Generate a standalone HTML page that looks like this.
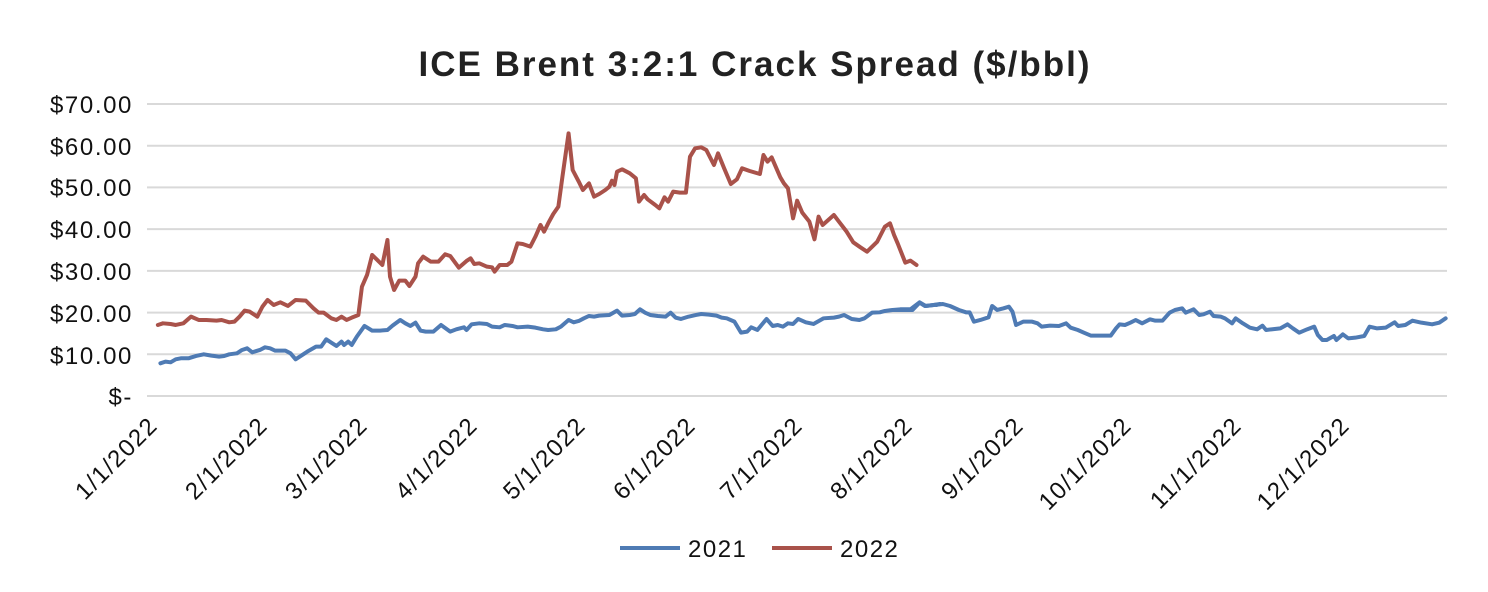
<!DOCTYPE html>
<html><head><style>body{margin:0;background:#fff}svg{display:block}text{font-family:"Liberation Sans",Arial,sans-serif}</style></head>
<body>
<svg width="1488" height="592" viewBox="0 0 1488 592">
<text x="755" y="76" font-size="35" font-weight="bold" letter-spacing="2" text-anchor="middle" fill="#222">ICE Brent 3:2:1 Crack Spread ($/bbl)</text>
<g stroke="#d9d9d9" stroke-width="2">
<line x1="147" x2="1447" y1="104" y2="104"/><line x1="147" x2="1447" y1="145.7" y2="145.7"/><line x1="147" x2="1447" y1="187.4" y2="187.4"/><line x1="147" x2="1447" y1="229.1" y2="229.1"/><line x1="147" x2="1447" y1="270.9" y2="270.9"/><line x1="147" x2="1447" y1="312.6" y2="312.6"/><line x1="147" x2="1447" y1="354.3" y2="354.3"/><line x1="147" x2="1447" y1="396" y2="396"/>
</g>
<g font-size="24" letter-spacing="1.6" text-anchor="end" fill="#111">
<text x="133" y="113">$70.00</text><text x="133" y="155">$60.00</text><text x="133" y="196">$50.00</text><text x="133" y="238">$40.00</text><text x="133" y="280">$30.00</text><text x="133" y="322">$20.00</text><text x="133" y="364">$10.00</text><text x="133" y="405">$-</text>
</g>
<g font-size="24" letter-spacing="1.4" text-anchor="end" fill="#111">
<text transform="translate(159,427) rotate(-45)">1/1/2022</text>
<text transform="translate(269,427) rotate(-45)">2/1/2022</text>
<text transform="translate(369,427) rotate(-45)">3/1/2022</text>
<text transform="translate(479,427) rotate(-45)">4/1/2022</text>
<text transform="translate(587,427) rotate(-45)">5/1/2022</text>
<text transform="translate(697,427) rotate(-45)">6/1/2022</text>
<text transform="translate(804,427) rotate(-45)">7/1/2022</text>
<text transform="translate(914,427) rotate(-45)">8/1/2022</text>
<text transform="translate(1025,427) rotate(-45)">9/1/2022</text>
<text transform="translate(1133,427) rotate(-45)">10/1/2022</text>
<text transform="translate(1243,427) rotate(-45)">11/1/2022</text>
<text transform="translate(1351,427) rotate(-45)">12/1/2022</text>
</g>
<g fill="none" stroke-width="4" stroke-linejoin="round" stroke-linecap="round">
<g transform="translate(140,90) scale(0.5102,0.3333)">
<polyline vector-effect="non-scaling-stroke" stroke="#4f7bb4" points="40,820 50,815 60,817 70,808 80,805 95,805 110,798 125,793 140,797 155,800 165,798 175,793 190,790 200,780 210,775 220,787 235,780 245,772 255,775 265,782 285,782 295,790 305,808 320,793 330,783 345,770 355,770 365,748 375,758 385,768 395,755 400,765 408,755 415,765 425,740 440,708 455,722 470,722 485,720 495,707 510,690 520,700 530,708 540,698 550,722 560,725 575,725 590,705 608,725 620,718 635,712 640,720 650,703 665,700 680,702 690,710 705,712 715,705 730,708 740,712 760,710 775,713 790,718 800,720 815,718 825,710 840,690 850,697 860,693 870,685 880,678 890,680 900,677 920,675 935,662 945,677 960,675 970,672 980,658 990,668 1000,675 1015,678 1030,680 1040,668 1050,683 1060,687 1075,680 1090,675 1100,672 1115,674 1130,677 1140,683 1150,685 1165,695 1178,728 1190,725 1198,712 1210,720 1228,687 1240,708 1250,705 1260,710 1270,700 1280,702 1290,687 1305,697 1320,702 1340,685 1360,683 1370,680 1380,675 1395,687 1410,690 1420,685 1435,668 1450,667 1460,663 1475,660 1490,658 1510,658 1528,637 1540,648 1555,645 1568,642 1561,645"/>
<polyline vector-effect="non-scaling-stroke" stroke="#a9524a" points="35,705 45,700 60,702 70,705 85,700 100,680 115,690 130,690 150,692 160,690 175,697 185,695 195,680 205,662 215,665 230,680 240,650 250,630 262,645 275,637 290,648 305,630 325,632 340,655 350,668 360,668 375,685 385,690 395,680 405,690 415,683 428,675 435,590 445,555 455,495 465,510 475,525 485,450 490,560 498,600 508,572 520,572 528,588 540,560 545,520 555,500 570,515 585,515 598,493 608,498 625,533 640,513 648,505 655,522 665,520 680,530 690,532 695,545 705,525 720,525 728,515 740,460 750,462 765,470 775,440 785,405 792,425 800,400 810,372 820,350 828,260 840,130 848,240 860,275 868,300 880,280 890,320 900,312 912,300 920,290 925,272 930,285 935,245 945,238 960,250 972,265 978,335 988,315 995,328 1010,345 1018,355 1028,322 1035,335 1045,305 1058,308 1070,308 1078,200 1088,175 1100,172 1110,180 1125,225 1133,190 1145,235 1158,282 1170,268 1180,235 1195,243 1215,252 1222,195 1230,215 1238,202 1255,262 1262,280 1270,295 1280,385 1288,332 1298,368 1312,395 1322,448 1330,380 1338,405 1360,375 1370,395 1385,425 1398,457 1412,472 1425,485 1445,455 1460,410 1470,400 1478,435 1485,460 1500,518 1510,512 1522,525"/>
</g>
<g transform="translate(900,280) scale(0.3571,0.3333)">
<polyline vector-effect="non-scaling-stroke" stroke="#4f7bb4" points="-20,90 35,90 55,68 70,78 95,75 120,72 140,78 165,90 185,97 195,97 207,125 225,120 248,112 258,78 272,90 290,85 305,80 315,95 325,135 345,125 370,125 385,130 397,140 420,137 445,138 465,130 478,143 498,150 515,158 535,167 590,167 605,145 615,133 630,135 645,128 660,120 678,130 700,118 715,122 735,122 755,98 770,90 790,85 800,98 822,88 838,105 850,103 868,95 878,108 898,110 910,115 930,130 940,115 960,130 980,143 1000,148 1015,137 1025,150 1040,148 1065,145 1085,133 1100,145 1118,158 1140,148 1160,140 1170,165 1183,180 1195,180 1215,168 1222,180 1240,163 1255,175 1275,173 1300,168 1315,140 1335,145 1360,143 1385,127 1395,138 1415,135 1435,122 1460,128 1490,133 1510,128 1528,115"/>
</g>
</g>
<line x1="620" x2="680" y1="548" y2="548" stroke="#4f7bb4" stroke-width="4"/>
<text x="688" y="557" font-size="24" letter-spacing="1.5" fill="#111">2021</text>
<line x1="772" x2="832" y1="548" y2="548" stroke="#a9524a" stroke-width="4"/>
<text x="840" y="557" font-size="24" letter-spacing="1.5" fill="#111">2022</text>
</svg>
</body></html>
